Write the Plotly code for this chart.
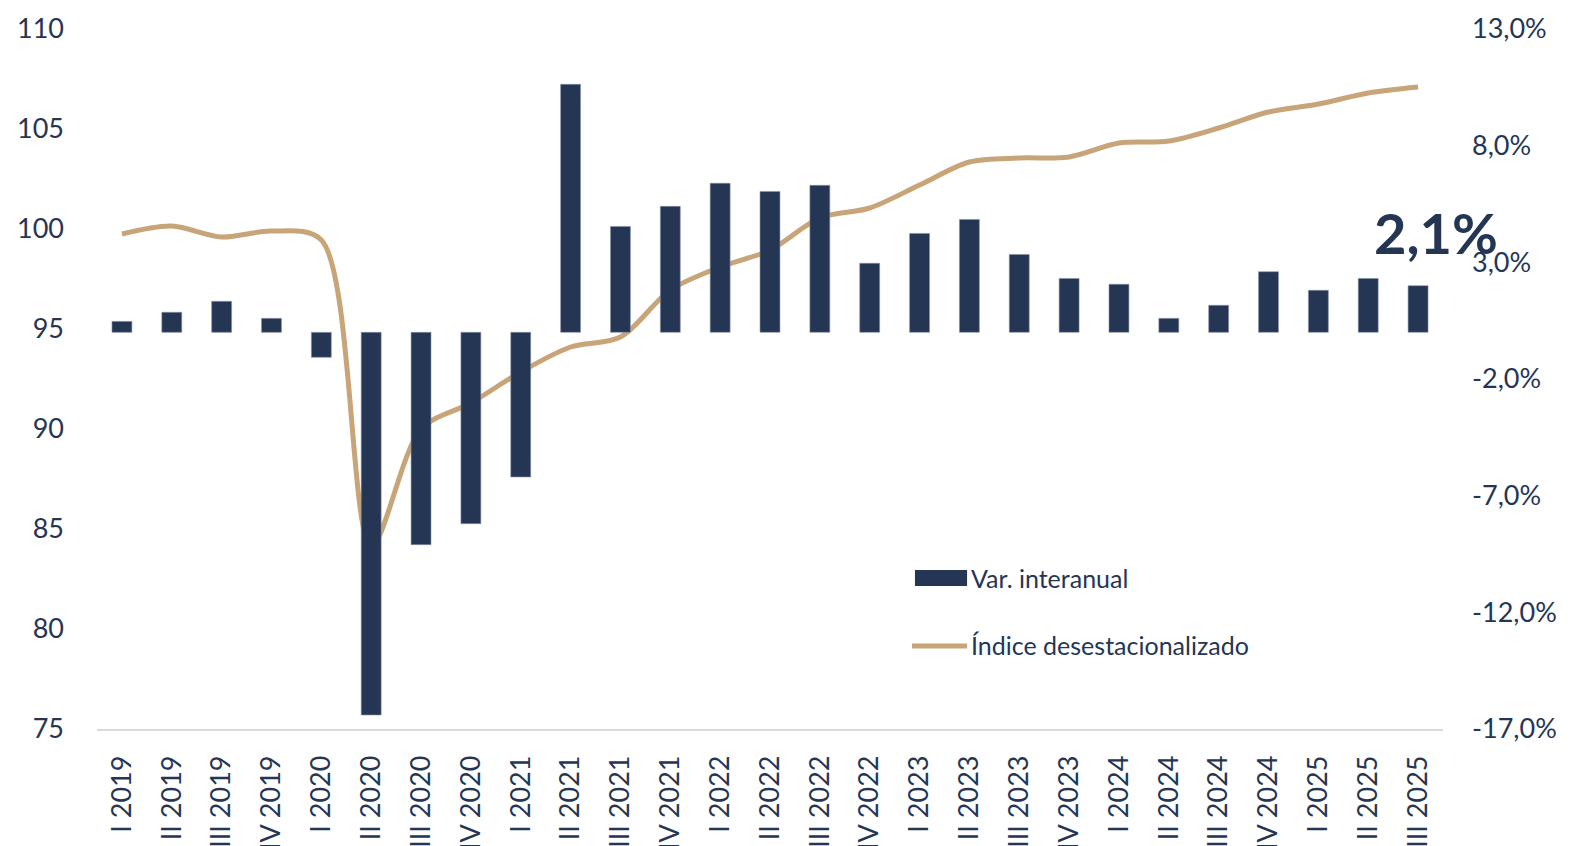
"""Índice desestacionalizado y variación interanual, trimestral 2019-2025."""

import plotly.graph_objects as go

# Data.
quarters = [
    "I 2019", "II 2019", "III 2019", "IV 2019",
    "I 2020", "II 2020", "III 2020", "IV 2020",
    "I 2021", "II 2021", "III 2021", "IV 2021",
    "I 2022", "II 2022", "III 2022", "IV 2022",
    "I 2023", "II 2023", "III 2023", "IV 2023",
    "I 2024", "II 2024", "III 2024", "IV 2024",
    "I 2025", "II 2025", "III 2025",
]
var_interanual = [
    0.47, 0.86, 1.33, 0.60,
    -1.07, -16.4, -9.1, -8.2,
    -6.2, 10.63, 4.54, 5.4,
    6.39, 6.04, 6.3, 2.96,
    4.24, 4.84, 3.34, 2.31,
    2.06, 0.6, 1.16, 2.6,
    1.8, 2.31, 2.0,
]
indice_desest = [
    99.75, 100.15, 99.6, 99.9,
    99.45, 84.2, 90.0, 91.3,
    92.85, 94.1, 94.6, 96.95,
    98.1, 98.95, 100.55, 101.05,
    102.2, 103.35, 103.55, 103.6,
    104.3, 104.4, 105.05, 105.85,
    106.25, 106.8, 107.1,
]
pct_ticks = [-17, -12, -7, -2, 3, 8, 13]
pct_labels = ["-17,0%", "-12,0%", "-7,0%", "-2,0%", "3,0%", "8,0%", "13,0%"]
last_label = "2,1%"

NAVY = "#253655"
GOLD = "#C8A479"
FONT = "Lato"

fig = go.Figure()

# Bars: year-on-year change (right axis).
fig.add_trace(go.Bar(
    x=quarters, y=var_interanual, yaxis="y2",
    marker=dict(color=NAVY, line=dict(color="#8a93a6", width=0.6)),
    name="Var. interanual", showlegend=False,
))

# Line: seasonally adjusted index (left axis).
fig.add_trace(go.Scatter(
    x=quarters, y=indice_desest, mode="lines",
    line=dict(color=GOLD, width=5, shape="spline", smoothing=0.9),
    name="Índice desestacionalizado", showlegend=False,
))

# The page body has an 8px margin, so the figure is 8px smaller and the
# left/top margins are 8px less to land the plot where the reference has it.
fig.update_layout(
    width=1567, height=838,
    template="none",
    paper_bgcolor="white", plot_bgcolor="white",
    margin=dict(l=89, r=132, t=21, b=117, autoexpand=False),
    separators=",.",
    bargap=0.6,
    font=dict(family=FONT, color=NAVY, size=27),
    xaxis=dict(
        type="category", range=[-0.5, len(quarters) - 0.5],
        tickangle=-90, showgrid=False,
        showline=True, linecolor="#d9d9d9", linewidth=1.5,
        ticks="", automargin=False, ticklabelstandoff=14,
        tickfont=dict(size=27, color=NAVY),
    ),
    yaxis=dict(
        range=[75, 110], dtick=5, tick0=75, showgrid=False, zeroline=False,
        ticks="", automargin=False, ticklabelstandoff=32,
        tickfont=dict(size=27, color=NAVY),
    ),
    yaxis2=dict(
        range=[-17, 13], tickvals=pct_ticks, ticktext=pct_labels,
        overlaying="y", side="right",
        showgrid=False, zeroline=False, ticks="", automargin=False,
        ticklabelstandoff=28,
        tickfont=dict(size=27, color=NAVY),
    ),
)

# Label for the last observation.
fig.add_annotation(
    x=quarters[-1], y=4.3, xref="x", yref="y2", xshift=18,
    text="<b>%s</b>" % last_label, showarrow=False,
    font=dict(family=FONT, size=56, color=NAVY),
)

# Manual legend.
fig.add_shape(type="rect", xref="paper", yref="paper",
              x0=0.6077, x1=0.6464, y0=0.2043, y1=0.227,
              fillcolor=NAVY, line=dict(width=0))
fig.add_shape(type="line", xref="paper", yref="paper",
              x0=0.6055, x1=0.6464, y0=0.1186, y1=0.1186,
              line=dict(color=GOLD, width=5))
fig.add_annotation(x=0.648, y=0.2157, xref="paper", yref="paper",
                   xanchor="left", yanchor="middle", showarrow=False,
                   text="Var. interanual",
                   font=dict(family=FONT, size=25, color=NAVY))
fig.add_annotation(x=0.648, y=0.12, xref="paper", yref="paper",
                   xanchor="left", yanchor="middle", showarrow=False,
                   text="Índice desestacionalizado",
                   font=dict(family=FONT, size=25, color=NAVY))

fig.write_html("out.html")
